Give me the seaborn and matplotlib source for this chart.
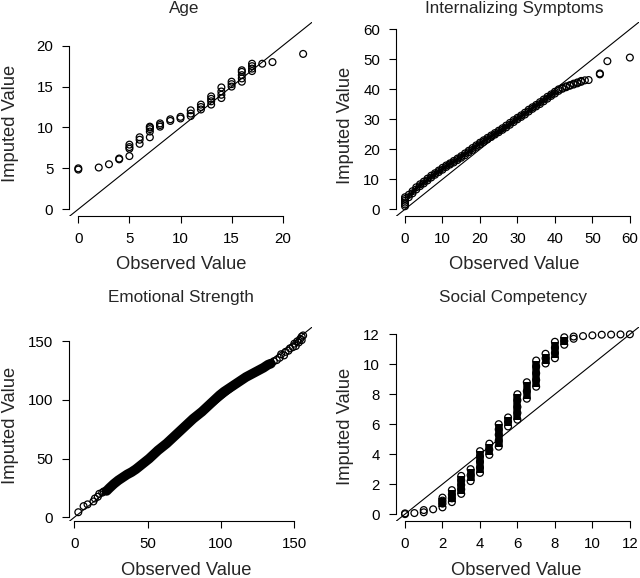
import matplotlib
matplotlib.use("Agg")
import matplotlib.pyplot as plt
import pandas as pd
import seaborn as sns

# Age (observed vs imputed quantiles)
age_obs = [0, 0, 2, 3, 4, 4,
           5, 5, 5, 5, 6, 6, 6,
           7, 7, 7, 7, 7, 8, 8, 8,
           9, 9, 10, 10, 11, 11, 11,
           12, 12, 12, 13, 13, 13, 13,
           14, 14, 14, 14, 15, 15, 15,
           16, 16, 16, 16, 16, 17, 17, 17, 17,
           18, 19, 22]
age_imp = [4.85, 5.0, 5.1, 5.5, 6.1, 6.2,
           6.5, 7.4, 7.6, 7.9, 8.0, 8.5, 8.8,
           8.8, 9.5, 9.8, 10.0, 10.1, 10.1, 10.3, 10.5,
           10.8, 11.0, 11.1, 11.3, 11.4, 11.7, 12.1,
           12.2, 12.5, 12.8, 12.8, 13.2, 13.5, 13.8,
           13.6, 14.0, 14.4, 14.9, 15.0, 15.3, 15.6,
           15.6, 16.0, 16.4, 16.8, 17.0, 16.9, 17.2, 17.5, 17.8,
           17.8, 18.0, 19.0]

# Internalizing Symptoms
int_obs = [0, 0, 0, 0, 0, 0,
           1, 1, 2, 2, 3, 3, 4, 4, 5, 5, 6, 6, 7, 7, 8, 8, 9, 9,
           10, 10, 11, 11, 12, 12, 13, 13, 14, 14, 15, 15, 16, 16, 17, 17, 18, 18, 19, 19,
           20, 20, 21, 21, 22, 22, 23, 23, 24, 24, 25, 25, 26, 26, 27, 27, 28, 28, 29, 29,
           30, 30, 31, 31, 32, 32, 33, 33, 34, 34, 35, 35, 36, 36, 37, 37, 38, 38, 39, 39,
           40, 40, 41, 41, 42, 42, 43, 43, 44, 44, 45, 45, 46, 46, 47, 47,
           48, 49, 52, 52, 54, 60]
int_imp = [1.0, 1.6, 2.2, 2.8, 3.4, 4.0,
           4.0, 4.8, 5.3, 6.0, 6.6, 7.3, 7.7, 8.3, 8.6, 9.2, 9.6, 10.2, 10.6, 11.2, 11.5, 12.0, 12.4, 12.9,
           13.2, 13.8, 14.1, 14.6, 14.9, 15.3, 15.6, 16.1, 16.4, 16.9, 17.2, 17.7, 18.0, 18.6, 19.0, 19.5, 19.8, 20.4, 20.8, 21.3,
           21.7, 22.2, 22.5, 23.0, 23.3, 23.8, 24.1, 24.6, 24.9, 25.4, 25.7, 26.2, 26.5, 27.0, 27.3, 27.9, 28.2, 28.8, 29.1, 29.7,
           30.0, 30.5, 30.8, 31.3, 31.6, 32.2, 32.6, 33.2, 33.5, 34.0, 34.3, 34.8, 35.1, 35.7, 36.0, 36.6, 36.9, 37.5, 37.8, 38.3,
           38.6, 39.2, 39.5, 40.0, 40.2, 40.5, 40.7, 41.0, 41.2, 41.4, 41.6, 41.9, 42.0, 42.3, 42.5, 42.8,
           43.0, 43.1, 45.0, 45.3, 49.4, 50.6]

# Emotional Strength
emo_obs = [2.7, 6.3, 9, 13, 14, 16, 17, 19, 20, 22,
           24, 27, 30, 33, 36, 39, 42, 45, 48, 51, 54, 57, 60, 63, 66, 69, 72, 75,
           78, 81, 84, 87, 90, 93, 96, 99, 102, 105, 108, 111, 114, 117, 120, 123,
           126, 129, 132, 134, 136, 138, 140, 141, 143, 144, 146, 147, 149, 150,
           151, 152, 153, 154, 155, 155, 156]
emo_imp = [4.3, 9.5, 11.0, 13.5, 16.0, 17.5, 20.0, 21.0, 22.0, 22.5,
           25.0, 28.5, 31.5, 34.0, 36.5, 38.5, 41.0, 44.0, 47.0, 50.0, 53.5, 57.0, 60.0, 63.0, 66.5, 70.0, 73.5, 77.0,
           80.5, 84.0, 87.0, 90.0, 93.5, 97.0, 100.5, 104.0, 107.0, 109.5, 112.0, 114.5, 117.0, 119.5, 121.5, 123.5,
           125.5, 127.5, 130.0, 131.0, 133.0, 134.0, 136.0, 139.0, 138.0, 141.0, 142.0, 144.0, 145.0, 148.0,
           146.0, 150.0, 149.0, 152.0, 151.0, 154.0, 155.0]

# Social Competency
soc_obs = [0, 0, 0.5, 1, 1, 1.5,
           2, 2, 2, 2, 2.5, 2.5, 2.5, 2.5,
           3, 3, 3, 3, 3, 3.5, 3.5, 3.5,
           4, 4, 4, 4, 4, 4.5, 4.5, 4.5,
           5, 5, 5, 5, 5, 5.5, 5.5, 5.5,
           6, 6, 6, 6, 6, 6.5, 6.5, 6.5,
           7, 7, 7, 7, 7, 7.5, 7.5, 7.5,
           8, 8, 8, 8, 8.5, 8.5, 8.5,
           9, 9, 9.5, 10, 10.5, 11, 11.5, 12]
soc_imp = [0.0, 0.05, 0.07, 0.12, 0.27, 0.32,
           0.45, 0.7, 0.9, 1.1, 0.8, 1.05, 1.3, 1.6,
           1.35, 1.65, 1.95, 2.25, 2.55, 2.2, 2.6, 3.0,
           2.75, 3.1, 3.5, 3.85, 4.2, 3.95, 4.3, 4.7,
           4.5, 4.9, 5.3, 5.65, 6.0, 5.85, 6.15, 6.45,
           6.3, 6.75, 7.15, 7.6, 8.0, 7.7, 8.2, 8.8,
           8.5, 8.95, 9.4, 9.85, 10.25, 10.05, 10.4, 10.7,
           10.4, 10.75, 11.1, 11.5, 11.3, 11.55, 11.8,
           11.7, 11.85, 11.88, 11.93, 11.97, 11.98, 11.99, 12.0]

sns.set_style("ticks")
plt.rcParams["font.family"] = ["Liberation Sans", "DejaVu Sans"]

fig = plt.figure(figsize=(6.4, 5.78), dpi=100)

W, H = 0.3794, 0.336
panels = [
    # data, title, ticks, axes pos, title pos, xlabel pos, ylabel pos
    (age_obs, age_imp, "Age", [0, 5, 10, 15, 20],
     [0.1083, 0.6256], (0.2883, 0.9853), (0.46, -0.25), (-0.244, 0.48)),
    (int_obs, int_imp, "Internalizing Symptoms", [0, 10, 20, 30, 40, 50, 60],
     [0.6188, 0.6256], (0.8036, 0.9853), (0.4876, -0.25), (-0.207, 0.47)),
    (emo_obs, emo_imp, "Emotional Strength", [0, 50, 100, 150],
     [0.1083, 0.0981], (0.2828, 0.4848), (0.48, -0.251), (-0.244, 0.495)),
    (soc_obs, soc_imp, "Social Competency", [0, 2, 4, 6, 8, 10, 12],
     [0.6188, 0.0981], (0.802, 0.4848), (0.4955, -0.251), (-0.21, 0.49)),
]

for obs, imp, title, ticks, pos, tpos, xlpos, ylpos in panels:
    ax = fig.add_axes([pos[0], pos[1], W, H])
    lo = min(min(obs), min(imp))
    hi = max(max(obs), max(imp))
    pad = 0.04 * (hi - lo)
    ax.set_xlim(lo - pad, hi + pad)
    ax.set_ylim(lo - pad, hi + pad)

    # solid bodies where many circles pile up
    pts = pd.DataFrame({"obs": obs, "imp": imp})
    if title == "Emotional Strength":
        band = pts[(pts["obs"] >= 22) & (pts["obs"] <= 134)]
        ax.plot(band["obs"], band["imp"], color="black", lw=7,
                solid_capstyle="round", zorder=2)
    if title == "Internalizing Symptoms":
        band = pts[(pts["obs"] >= 1) & (pts["obs"] <= 40)]
        ax.plot(band["obs"], band["imp"], color="black", lw=2.2, zorder=2)

    sns.scatterplot(x=obs, y=imp, ax=ax, marker="o", s=24,
                    edgecolor="black", linewidth=0.9, zorder=3)
    ax.collections[-1].set_facecolor("none")
    ax.collections[-1].set_edgecolor("black")

    if title == "Social Competency":
        g = pts.groupby("obs")["imp"].agg(["min", "max", "count"])
        g = g[g["count"] >= 3]
        ax.vlines(g.index, g["min"], g["max"], color="black", lw=5.4, zorder=3.5)

    ax.axline((0, 0), slope=1, color="black", lw=0.8, zorder=4)

    ax.set_xticks(ticks)
    ax.set_yticks(ticks)
    ax.tick_params(length=5, width=0.8, labelsize=10.8, pad=6.5,
                   color="black", labelcolor="black")
    sns.despine(ax=ax)
    for s in ["left", "bottom"]:
        ax.spines[s].set_linewidth(0.8)
        ax.spines[s].set_color("black")
    ax.spines["left"].set_bounds(ticks[0], ticks[-1])
    ax.spines["bottom"].set_bounds(ticks[0], ticks[-1])

    ax.set_xlabel("Observed Value", fontsize=13.2)
    ax.set_ylabel("Imputed Value", fontsize=13.2)
    ax.xaxis.set_label_coords(*xlpos)
    ax.yaxis.set_label_coords(*ylpos)
    ax.xaxis.label.set_va("center")
    ax.yaxis.label.set_va("center")

    fig.text(tpos[0], tpos[1], title, fontsize=12.3, ha="center", va="center")

fig.savefig("out.png", dpi=100)
